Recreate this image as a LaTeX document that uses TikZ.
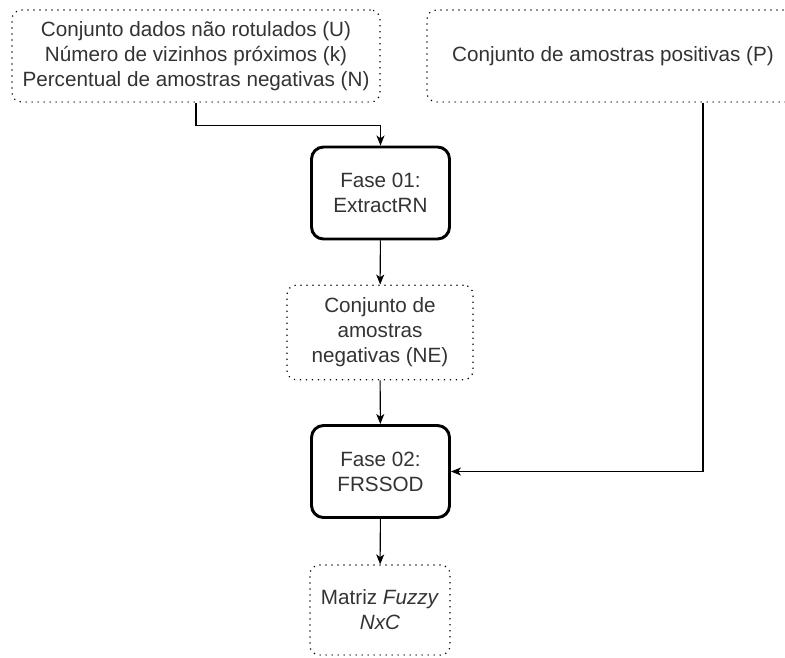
\documentclass[tikz,border=0pt]{standalone}
\usepackage{fontspec}
\setmainfont{Liberation Sans}
\usetikzlibrary{arrows.meta}
\definecolor{txt}{HTML}{333333}
\begin{document}
\begin{tikzpicture}[>={Stealth[length=7.5pt,width=6pt,inset=2pt]},x=0.75pt,y=-0.75pt,
  every node/.style={align=center,text=txt,font=\fontsize{15.5pt}{18.7pt}\selectfont},
  dado/.style={draw,rounded corners=7pt,line width=0.9pt,dash pattern=on 0.9pt off 3.6pt,inner sep=0pt},
  fase/.style={draw,rounded corners=9pt,line width=2.2pt,minimum width=103.5pt,minimum height=69pt,inner sep=0pt}]
\useasboundingbox (0,0) rectangle (785,657);
\node[dado,minimum width=276pt,minimum height=69pt] (U) at (196,56){Conjunto dados não rotulados (U)\\Número de vizinhos próximos (k)\\Percentual de amostras negativas (N)};
\node[dado,minimum width=279pt,minimum height=69pt] (P) at (613,56){Conjunto de amostras positivas (P)};
\node[fase] (F1) at (380.5,193){Fase 01:\\ExtractRN};
\node[dado,minimum width=139.5pt,minimum height=71pt] (NE) at (380,332.5){Conjunto de\\amostras\\negativas (NE)};
\node[fase] (F2) at (380.5,471.5){Fase 02:\\FRSSOD};
\node[dado,minimum width=105pt,minimum height=67.5pt] (M) at (380,610){Matriz \textit{Fuzzy}\\\textit{NxC}};
\draw[->,thick](U.south) -- ++(0,23) -| (F1.north);
\draw[->,thick](F1) -- (NE);
\draw[->,thick](NE) -- (F2);
\draw[->,thick]([xshift=67.5pt]P.south) |- (F2.east);
\draw[->,thick](F2) -- (M);
\end{tikzpicture}
\end{document}
